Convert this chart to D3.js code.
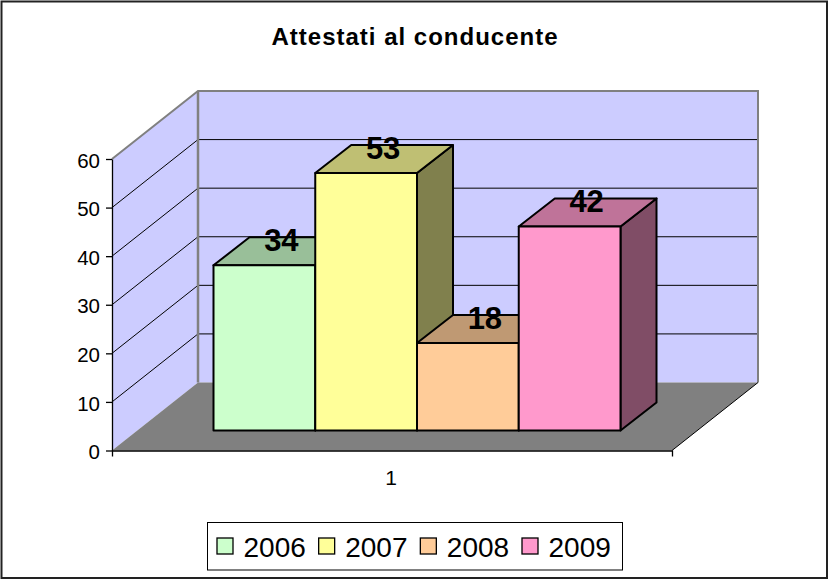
<!DOCTYPE html>
<html>
<head>
<meta charset="utf-8">
<script src="https://cdn.jsdelivr.net/npm/d3@7"></script>
<style>
  html, body { margin: 0; padding: 0; background: #fff; }
  svg { display: block; font-family: "Liberation Sans", Arial, sans-serif; }
</style>
</head>
<body>
<script>
// Chart data
var title = "Attestati al conducente";
var years = ["2006", "2007", "2008", "2009"];
var values = [34, 53, 18, 42];
var colors = ["#CCFFCC", "#FFFF99", "#FFCC99", "#FF99CC"];
var categories = ["1"];
var yTicks = [0, 10, 20, 30, 40, 50, 60];

var width = 828,
    height = 581;

var svg = d3.select("body").append("svg")
    .attr("width", width)
    .attr("height", height);

// Outer chart border
svg.append("rect")
    .attr("x", 1.5).attr("y", 1.5)
    .attr("width", 825.5).attr("height", 576.5)
    .attr("fill", "#fff")
    .attr("stroke", "#222")
    .attr("stroke-width", 2);

// Front plane scales
var y = d3.scaleLinear().domain([0, 60]).range([450.5, 159]);
var xAxisScale = d3.scaleBand().domain(categories).range([112, 672]);
var x = d3.scaleBand().domain(years).range([213.5, 620.5]);

// 3D offsets: whole floor depth, and depth of the bars
var depth = {x: 86, y: -68};
var barDepth = {x: 36, y: -28};
var barBase = y(0) - 20;

function poly(points) {
  return d3.line()(points) + "Z";
}

// shade a colour like the darker top and side faces
function shade(color, k) {
  var c = d3.rgb(color);
  return d3.rgb(c.r * k, c.g * k, c.b * k);
}

var x0 = xAxisScale.range()[0],
    x1 = xAxisScale.range()[1];

// Side wall
svg.append("path")
    .attr("d", poly([[x0, y(0)], [x0, y(60)], [x0 + depth.x, y(60) + depth.y], [x0 + depth.x, y(0) + depth.y]]))
    .attr("fill", "#CCCCFF");

// Back wall
svg.append("rect")
    .attr("x", x0 + depth.x)
    .attr("y", y(60) + depth.y)
    .attr("width", x1 - x0)
    .attr("height", y(0) - y(60))
    .attr("fill", "#CCCCFF");

// Gridlines on side wall and back wall
var grid = svg.append("g").attr("stroke", "#000").attr("stroke-width", 1).attr("fill", "none");
grid.selectAll("path")
    .data(yTicks.slice(1, -1))
    .enter()
    .append("path")
    .attr("d", function(d) {
      return d3.line()([[x0, y(d)], [x0 + depth.x, y(d) + depth.y], [x1 + depth.x, y(d) + depth.y]]);
    });

// Grey wall edges
svg.append("path")
    .attr("d", d3.line()([[x0, y(60)], [x0 + depth.x, y(60) + depth.y], [x1 + depth.x, y(60) + depth.y], [x1 + depth.x, y(0) + depth.y]]))
    .attr("fill", "none")
    .attr("stroke", "#808080")
    .attr("stroke-width", 2);
svg.append("line")
    .attr("x1", x0 + depth.x).attr("x2", x0 + depth.x)
    .attr("y1", y(60) + depth.y).attr("y2", y(0) + depth.y)
    .attr("stroke", "#808080")
    .attr("stroke-width", 2.5);

// Floor
svg.append("path")
    .attr("d", poly([[x0, y(0)], [x1, y(0)], [x1 + depth.x, y(0) + depth.y], [x0 + depth.x, y(0) + depth.y]]))
    .attr("fill", "#808080");
svg.append("line")
    .attr("x1", x1).attr("y1", y(0))
    .attr("x2", x1 + depth.x).attr("y2", y(0) + depth.y)
    .attr("stroke", "#000");

// Bars
var bars = svg.selectAll("g.bar")
    .data(years.map(function(d, i) { return {year: d, value: values[i], color: colors[i]}; }))
    .enter()
    .append("g")
    .attr("class", "bar")
    .attr("stroke", "#000")
    .attr("stroke-width", 2)
    .attr("stroke-linejoin", "round");

function barTop(d) {
  return barBase - (y(0) - y(d.value));
}

// side
bars.append("path")
    .attr("d", function(d) {
      var r = x(d.year) + x.bandwidth();
      return poly([[r, barBase], [r, barTop(d)], [r + barDepth.x, barTop(d) + barDepth.y], [r + barDepth.x, barBase + barDepth.y]]);
    })
    .attr("fill", function(d) { return shade(d.color, 0.5); });

// top
bars.append("path")
    .attr("d", function(d) {
      var l = x(d.year), r = l + x.bandwidth(), t = barTop(d);
      return poly([[l, t], [r, t], [r + barDepth.x, t + barDepth.y], [l + barDepth.x, t + barDepth.y]]);
    })
    .attr("fill", function(d) { return shade(d.color, 0.75); });

// front
bars.append("rect")
    .attr("x", function(d) { return x(d.year); })
    .attr("y", barTop)
    .attr("width", x.bandwidth())
    .attr("height", function(d) { return barBase - barTop(d); })
    .attr("fill", function(d) { return d.color; });

// Value labels
svg.selectAll("text.value")
    .data(bars.data())
    .enter()
    .append("text")
    .attr("class", "value")
    .attr("x", function(d) { return x(d.year) + x.bandwidth() / 2 + barDepth.x / 2 - 1; })
    .attr("y", function(d) { return barTop(d) - 14.5; })
    .attr("text-anchor", "middle")
    .attr("font-size", 31)
    .attr("font-weight", "bold")
    .text(function(d) { return d.value; });

// Y axis
var yAxis = svg.append("g")
    .attr("transform", "translate(" + x0 + ",0)")
    .call(d3.axisLeft(y).tickValues(yTicks).tickSize(6).tickSizeOuter(0).tickPadding(6));
yAxis.selectAll("text").attr("font-size", 20.5).attr("font-family", "Liberation Sans").attr("fill", "#000").attr("dy", "0.4em");
yAxis.selectAll("line, path").attr("stroke", "#000").attr("stroke-width", 1.3);

// X axis
var xAxis = svg.append("g")
    .attr("transform", "translate(0," + y(0) + ")")
    .call(d3.axisBottom(xAxisScale).tickSize(0).tickSizeOuter(6).tickPadding(19.5));
xAxis.selectAll("text").attr("font-size", 21).attr("font-family", "Liberation Sans").attr("fill", "#000").attr("dx", -1);
xAxis.selectAll("line, path").attr("stroke", "#000").attr("stroke-width", 1.3);

// Title
svg.append("text")
    .attr("x", 415)
    .attr("y", 45)
    .attr("text-anchor", "middle")
    .attr("font-size", 24)
    .attr("font-weight", "bold")
    .attr("letter-spacing", 1)
    .text(title);

// Legend
var legend = svg.append("g");
legend.append("rect")
    .attr("x", 207.5).attr("y", 522.5)
    .attr("width", 415).attr("height", 47.5)
    .attr("fill", "#fff")
    .attr("stroke", "#000");

var legendX = d3.scalePoint().domain(years).range([217, 522]);
var items = legend.selectAll("g.item")
    .data(bars.data())
    .enter()
    .append("g")
    .attr("class", "item")
    .attr("transform", function(d) { return "translate(" + legendX(d.year) + ",546)"; });
items.append("rect")
    .attr("x", 0).attr("y", -8)
    .attr("width", 16).attr("height", 16)
    .attr("fill", function(d) { return d.color; })
    .attr("stroke", "#000")
    .attr("stroke-width", 1.3);
items.append("text")
    .attr("x", 26.5)
    .attr("y", 11)
    .attr("font-size", 28)
    .text(function(d) { return d.year; });
</script>
</body>
</html>
